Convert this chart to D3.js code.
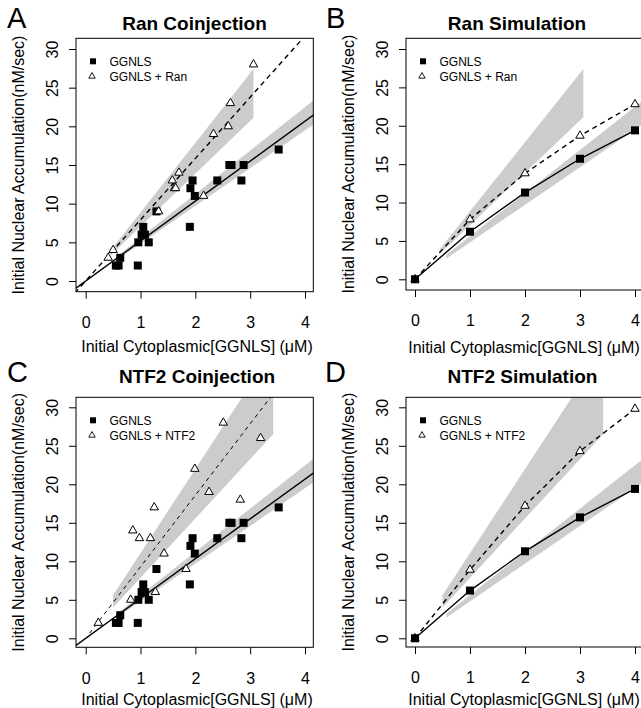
<!DOCTYPE html>
<html lang="en">
<head>
<meta charset="utf-8">
<script src="https://d3js.org/d3.v7.min.js"></script>
<style>
  body { margin: 0; background: #fff; }
  svg { display: block; font-family: "Liberation Sans", Arial, sans-serif; }
  .tick line { stroke: #000; }
  .tick text { font-size: 16px; fill: #000; }
</style>
</head>
<body>
<svg id="chart" width="641" height="708"></svg>
<script>
// measured data: GGNLS alone (same set in A and C)
const ggnlsX = [0.55, 0.6, 0.63, 0.95, 0.96, 1.02, 1.05, 1.08, 1.15, 1.29, 1.9, 1.91, 1.95, 1.99, 2.4, 2.62, 2.66, 2.84, 2.88, 3.52]
const ggnlsY = [2, 2, 3, 2, 5, 6, 7, 6, 5, 9, 7, 12, 13, 11, 13, 15, 15, 13, 15, 17]
// GGNLS + Ran coinjection
const ranX = [0.41, 0.5, 1.33, 1.58, 1.62, 1.64, 1.7, 2.15, 2.33, 2.6, 2.64, 3.06]
const ranY = [3, 4, 9, 13, 12, 12, 14, 11, 19, 20, 23, 28]
// GGNLS + NTF2 coinjection
const ntf2X = [0.23, 0.82, 0.86, 0.98, 1.18, 1.25, 1.27, 1.43, 1.83, 1.99, 2.25, 2.51, 2.82, 3.19]
const ntf2Y = [2, 5, 14, 13, 13, 17, 6, 11, 9, 22, 19, 28, 18, 26]
// simulations
const simX = [0, 1, 2, 3, 4]
const simGgnls = [0, 6.2, 11.3, 15.7, 19.4]
const simRan = [0, 7.8, 13.8, 18.7, 22.8]
const simNtf2 = [0, 8.9, 17.2, 24.3, 29.8]
// fitted lines (end points)
const fitX = [-0.2, 4.3]
const fitGgnls = [-1.03, 22.23]
const fitRan = [-1.58, 34.06]
const fitNtf2X = [0.07, 3.5]
const fitNtf2 = [0.65, 32.5]
// grey bands (end points of lower / upper edges)
const bandGgnlsX = [0.57, 4.2]
const bandGgnlsLo = [2.7, 20.47]
const bandGgnlsHi = [3.2, 23.6]
const bandRanX = [0.45, 3.06]
const bandRanLo = [3.3, 21.1]
const bandRanHi = [3.9, 27.4]
const bandNtf2X = [0.5, 3.42]
const bandNtf2Lo = [4.0, 26.5]
const bandNtf2Hi = [5.6, 37.5]
// axes
const xTicks = [0, 1, 2, 3, 4]
const yTicks = [0, 5, 10, 15, 20, 25, 30]

const pts = (xs, ys) => xs.map((x, i) => ({x: x, y: ys[i]}))
const band = (xs, lo, hi) => xs.map((x, i) => ({x: x, lo: lo[i], hi: hi[i]}))

const panels = [
  {letter: "A", title: "Ran Coinjection", kind: "fit", label2: "GGNLS + Ran",
   left: 76, top: 38.3, right: 313.3, bottom: 291.7, x0: 85.7, x4: 305, y0: 281, y30: 49,
   titleX: 194.5, titleY: 29.5, letterX: 7, letterY: 28, ylabX: 23.5, xlabX: 197, xlabY: 352,
   tri: pts(ranX, ranY), line2: pts(fitX, fitRan), band2: band(bandRanX, bandRanLo, bandRanHi), dash: "5,4", dashW: 1.4},
  {letter: "B", title: "Ran Simulation", kind: "sim", label2: "GGNLS + Ran",
   left: 406, top: 38.3, right: 643.6, bottom: 290, x0: 415, x4: 635, y0: 279.3, y30: 49,
   titleX: 517, titleY: 29.5, letterX: 326, letterY: 28, ylabX: 354, xlabX: 524, xlabY: 353,
   tri: pts(simX, simRan), line2: pts(simX, simRan), band2: band(bandRanX, bandRanLo, bandRanHi), dash: "5,4", dashW: 1.4},
  {letter: "C", title: "NTF2 Coinjection", kind: "fit", label2: "GGNLS + NTF2",
   left: 76, top: 397.3, right: 313.3, bottom: 647.3, x0: 85.7, x4: 305, y0: 638.3, y30: 407.3,
   titleX: 197, titleY: 382.5, letterX: 7, letterY: 382, ylabX: 23.5, xlabX: 197, xlabY: 704.5,
   tri: pts(ntf2X, ntf2Y), line2: pts(fitNtf2X, fitNtf2), band2: band(bandNtf2X, bandNtf2Lo, bandNtf2Hi), dash: "4,4", dashW: 1},
  {letter: "D", title: "NTF2 Simulation", kind: "sim", label2: "GGNLS + NTF2",
   left: 406, top: 397.3, right: 643.6, bottom: 647, x0: 415, x4: 635, y0: 638.3, y30: 407.3,
   titleX: 522.5, titleY: 382.5, letterX: 325, letterY: 382, ylabX: 354, xlabX: 524, xlabY: 704.5,
   tri: pts(simX, simNtf2), line2: pts(simX, simNtf2), band2: band(bandNtf2X, bandNtf2Lo, bandNtf2Hi), dash: "5,4", dashW: 1.4}
]

const svg = d3.select("#chart")
svg.append("rect").attr("width", 641).attr("height", 708).attr("fill", "#fff")

panels.forEach((p, k) => {
  const x = d3.scaleLinear().domain([0, 4]).range([p.x0, p.x4])
  const y = d3.scaleLinear().domain([0, 30]).range([p.y0, p.y30])
  const g = svg.append("g")

  // clip to plot box
  const clipId = "clip" + k
  g.append("clipPath").attr("id", clipId).append("rect")
    .attr("x", p.left).attr("y", p.top).attr("width", p.right - p.left).attr("height", p.bottom - p.top)
  const plot = g.append("g").attr("clip-path", `url(#${clipId})`)

  // grey bands
  const area = d3.area().x(d => x(d.x)).y0(d => y(d.lo)).y1(d => y(d.hi))
  plot.append("path").attr("d", area(band(bandGgnlsX, bandGgnlsLo, bandGgnlsHi))).attr("fill", "#cccccc")
  plot.append("path").attr("d", area(p.band2)).attr("fill", "#cccccc")

  // lines
  const line = d3.line().x(d => x(d.x)).y(d => y(d.y))
  const line1 = p.kind == "fit" ? pts(fitX, fitGgnls) : pts(simX, simGgnls)
  plot.append("path").attr("d", line(line1)).attr("fill", "none").attr("stroke", "#000").attr("stroke-width", 1.4)
  plot.append("path").attr("d", line(p.line2)).attr("fill", "none").attr("stroke", "#000")
    .attr("stroke-width", p.dashW).attr("stroke-dasharray", p.dash)

  // points
  const sq = p.kind == "fit" ? pts(ggnlsX, ggnlsY) : pts(simX, simGgnls)
  const tri = d3.symbol().type(d3.symbolTriangle).size(31)
  const drawSquares = () => plot.append("g").selectAll("rect").data(sq).enter().append("rect")
    .attr("x", d => x(d.x) - 4).attr("y", d => y(d.y) - 4).attr("width", 8).attr("height", 8).attr("fill", "#000")
  const drawTriangles = () => plot.append("g").selectAll("path").data(p.tri).enter().append("path")
    .attr("d", tri).attr("transform", d => `translate(${x(d.x)},${y(d.y)})`)
    .attr("fill", "#fff").attr("stroke", "#000").attr("stroke-width", 1)
  if (p.kind == "fit") { drawSquares(); drawTriangles() } else { drawTriangles(); drawSquares() }

  // box
  g.append("rect").attr("x", p.left).attr("y", p.top).attr("width", p.right - p.left).attr("height", p.bottom - p.top)
    .attr("fill", "none").attr("stroke", "#000").attr("stroke-width", 1)

  // axes
  const xa = g.append("g").attr("transform", `translate(0,${p.bottom})`)
    .call(d3.axisBottom(x).tickValues(xTicks).tickSize(7).tickPadding(18).tickFormat(d3.format("d")))
  xa.select(".domain").remove()
  xa.selectAll("text").attr("dy", "0.71em")
  const ya = g.append("g").attr("transform", `translate(${p.left},0)`)
    .call(d3.axisLeft(y).tickValues(yTicks).tickSize(7).tickFormat(d3.format("d")))
  ya.select(".domain").remove()
  ya.selectAll("text").attr("x", 0).attr("dy", 0).attr("text-anchor", "middle")
    .attr("transform", "translate(-17.7,0) rotate(-90)")
  g.selectAll(".tick text").attr("font-size", null).attr("font-family", null)

  // labels
  g.append("text").attr("x", p.xlabX).attr("y", p.xlabY).attr("text-anchor", "middle")
    .attr("font-size", 16).text("Initial Cytoplasmic[GGNLS] (\u03bcM)")
  g.append("text").attr("transform", `translate(${p.ylabX},${(p.top + p.bottom) / 2}) rotate(-90)`)
    .attr("text-anchor", "middle").attr("font-size", 16).text("Initial Nuclear Accumulation(nM/sec)")
  g.append("text").attr("x", p.titleX).attr("y", p.titleY).attr("text-anchor", "middle")
    .attr("font-size", 19).attr("font-weight", "bold").text(p.title)
  g.append("text").attr("x", p.letterX).attr("y", p.letterY).attr("font-size", 29).text(p.letter)

  // legend
  const lx = p.left + 17, ly = p.top + 23
  g.append("rect").attr("x", lx - 3).attr("y", ly - 3).attr("width", 6).attr("height", 6).attr("fill", "#000")
  g.append("path").attr("d", d3.symbol().type(d3.symbolTriangle).size(18)())
    .attr("transform", `translate(${lx - 1},${ly + 15})`).attr("fill", "#fff").attr("stroke", "#000").attr("stroke-width", 0.9)
  g.append("text").attr("x", lx + 16.5).attr("y", ly + 4.5).attr("font-size", 12).text("GGNLS")
  g.append("text").attr("x", lx + 16.5).attr("y", ly + 19.5).attr("font-size", 12).text(p.label2)
})
</script>
</body>
</html>
